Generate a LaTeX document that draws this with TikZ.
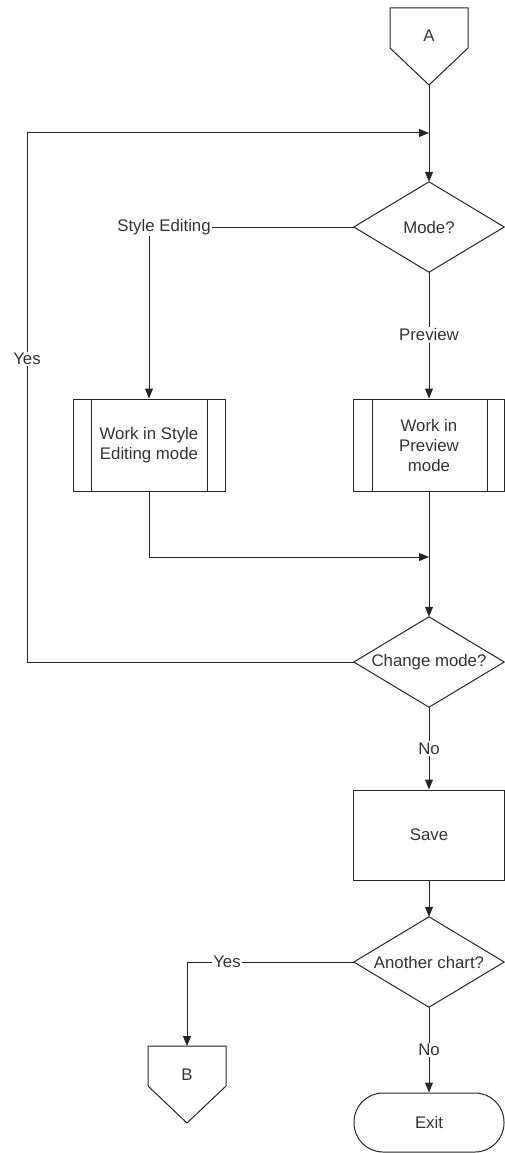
\documentclass[tikz,border=0pt]{standalone}
\usepackage{fontspec}
\setmainfont{Liberation Sans}
\usetikzlibrary{arrows.meta}
\begin{document}
\begin{tikzpicture}[x=1pt,y=-1pt,
  every node/.style={font=\fontsize{16.8}{20}\selectfont, text=black!80, inner sep=1pt},
  flow/.style={draw=black!85, line width=1pt},
  arr/.style={flow, -{Triangle[length=10pt,width=8pt]}},
  lbl/.style={fill=white, inner sep=1.5pt},
  dia/.style={minimum width=150pt, minimum height=90pt, inner sep=0pt},
  proc/.style={draw=black!85, line width=1pt, minimum width=151pt, minimum height=92pt, align=center, inner sep=0pt},
  term/.style={draw=black!85, line width=1pt, rounded corners=29pt, minimum width=150pt, minimum height=59pt, inner sep=0pt},
]
\useasboundingbox (0,0) rectangle (504,1153);

% off-page connector A
\draw[flow] (390,8) -- (468,8) -- (468,48) -- (429,85) -- (390,48) -- cycle;
\node (A) at (429,36) {A};
\coordinate (Atip) at (429,85);

% Mode? decision
\node[dia] (mode) at (429,227) {Mode?};
\draw[flow] (mode.north) -- (mode.east) -- (mode.south) -- (mode.west) -- cycle;
\draw[arr] (Atip) -- (mode.north);

% Style Editing branch
\node (se) at (164,227) {Style Editing};
\draw[flow] (mode.west) -- (se.east);
\node[proc, minimum width=152pt] (sbox) at (149,445) {Work in Style\\Editing mode};
\draw[flow] ([xshift=18.5pt]sbox.north west) -- ([xshift=18.5pt]sbox.south west);
\draw[flow] ([xshift=-18.5pt]sbox.north east) -- ([xshift=-18.5pt]sbox.south east);
\draw[arr] (se.south -| sbox.north) -- (sbox.north);

% Preview branch
\node[proc] (pbox) at (429,445) {Work in\\Preview\\mode};
\draw[flow] ([xshift=19pt]pbox.north west) -- ([xshift=19pt]pbox.south west);
\draw[flow] ([xshift=-18pt]pbox.north east) -- ([xshift=-18pt]pbox.south east);
\draw[arr] (mode.south) -- (pbox.north) node[lbl, pos=0.496] (pv) {Preview};

% merge
\coordinate (m1) at (429,557);
\draw[arr] (sbox.south) |- (m1);

% Change mode? decision
\node[dia] (cm) at (429,662) {Change mode?};
\draw[flow] (cm.north) -- (cm.east) -- (cm.south) -- (cm.west) -- cycle;
\draw[arr] (pbox.south) -- (cm.north);

% loop back
\coordinate (j1) at (429,133);
\coordinate (yl) at (27,662);
\coordinate (yt) at (27,133);
\draw[arr] (cm.west) -- (yl) -- (yt) -- (j1);
\node[lbl] (yes1) at (27,359) {Yes};

% Save
\node[proc, minimum height=90pt] (save) at (429,835) {Save};
\draw[arr] (cm.south) -- (save.north) node[lbl, midway] (no1) {No};

% Another chart? decision
\node[dia] (ac) at (429,962) {Another chart?};
\draw[flow] (ac.north) -- (ac.east) -- (ac.south) -- (ac.west) -- cycle;
\draw[arr] (save.south) -- (ac.north);

% Yes -> B
\node (yes2) at (227,962) {Yes};
\draw[flow] (ac.west) -- (yes2.east);
\coordinate (Btop) at (187,1046);
\draw[arr] (yes2.west) -| (Btop);
\draw[flow] (148,1046) -- (226,1046) -- (226,1086) -- (187,1123) -- (148,1086) -- cycle;
\node (B) at (187,1075) {B};

% Exit
\node[term] (exit) at (429,1122.5) {Exit};
\draw[arr] (ac.south) -- (exit.north) node[lbl, midway] (no2) {No};

\end{tikzpicture}
\end{document}
